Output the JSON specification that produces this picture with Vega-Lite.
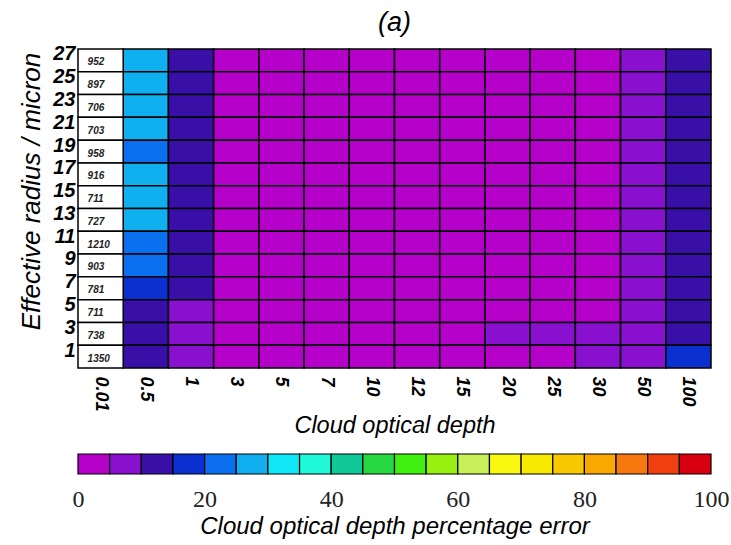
{
  "$schema": "https://vega.github.io/schema/vega-lite/v6.json",
  "background": "white",
  "padding": {"left": 18, "top": 8, "right": 5, "bottom": 5},
  "spacing": 16,
  "config": {"view": {"stroke": null}},
  "datasets": {
    "cells": [
      {"tau": "0.5", "re": 27, "err": 27}, {"tau": "0.5", "re": 25, "err": 27}, {"tau": "0.5", "re": 23, "err": 27}, {"tau": "0.5", "re": 21, "err": 27},
      {"tau": "0.5", "re": 19, "err": 22}, {"tau": "0.5", "re": 17, "err": 27}, {"tau": "0.5", "re": 15, "err": 27}, {"tau": "0.5", "re": 13, "err": 27},
      {"tau": "0.5", "re": 11, "err": 22}, {"tau": "0.5", "re": 9, "err": 22}, {"tau": "0.5", "re": 7, "err": 17}, {"tau": "0.5", "re": 5, "err": 12},
      {"tau": "0.5", "re": 3, "err": 12}, {"tau": "0.5", "re": 1, "err": 12},
      {"tau": "1", "re": 27, "err": 12}, {"tau": "1", "re": 25, "err": 12}, {"tau": "1", "re": 23, "err": 12}, {"tau": "1", "re": 21, "err": 12},
      {"tau": "1", "re": 19, "err": 12}, {"tau": "1", "re": 17, "err": 12}, {"tau": "1", "re": 15, "err": 12}, {"tau": "1", "re": 13, "err": 12},
      {"tau": "1", "re": 11, "err": 12}, {"tau": "1", "re": 9, "err": 12}, {"tau": "1", "re": 7, "err": 12}, {"tau": "1", "re": 5, "err": 7},
      {"tau": "1", "re": 3, "err": 7}, {"tau": "1", "re": 1, "err": 7},
      {"tau": "3", "re": 27, "err": 2}, {"tau": "3", "re": 25, "err": 2}, {"tau": "3", "re": 23, "err": 2}, {"tau": "3", "re": 21, "err": 2},
      {"tau": "3", "re": 19, "err": 2}, {"tau": "3", "re": 17, "err": 2}, {"tau": "3", "re": 15, "err": 2}, {"tau": "3", "re": 13, "err": 2},
      {"tau": "3", "re": 11, "err": 2}, {"tau": "3", "re": 9, "err": 2}, {"tau": "3", "re": 7, "err": 2}, {"tau": "3", "re": 5, "err": 2},
      {"tau": "3", "re": 3, "err": 2}, {"tau": "3", "re": 1, "err": 2},
      {"tau": "5", "re": 27, "err": 2}, {"tau": "5", "re": 25, "err": 2}, {"tau": "5", "re": 23, "err": 2}, {"tau": "5", "re": 21, "err": 2},
      {"tau": "5", "re": 19, "err": 2}, {"tau": "5", "re": 17, "err": 2}, {"tau": "5", "re": 15, "err": 2}, {"tau": "5", "re": 13, "err": 2},
      {"tau": "5", "re": 11, "err": 2}, {"tau": "5", "re": 9, "err": 2}, {"tau": "5", "re": 7, "err": 2}, {"tau": "5", "re": 5, "err": 2},
      {"tau": "5", "re": 3, "err": 2}, {"tau": "5", "re": 1, "err": 2},
      {"tau": "7", "re": 27, "err": 2}, {"tau": "7", "re": 25, "err": 2}, {"tau": "7", "re": 23, "err": 2}, {"tau": "7", "re": 21, "err": 2},
      {"tau": "7", "re": 19, "err": 2}, {"tau": "7", "re": 17, "err": 2}, {"tau": "7", "re": 15, "err": 2}, {"tau": "7", "re": 13, "err": 2},
      {"tau": "7", "re": 11, "err": 2}, {"tau": "7", "re": 9, "err": 2}, {"tau": "7", "re": 7, "err": 2}, {"tau": "7", "re": 5, "err": 2},
      {"tau": "7", "re": 3, "err": 2}, {"tau": "7", "re": 1, "err": 2},
      {"tau": "10", "re": 27, "err": 2}, {"tau": "10", "re": 25, "err": 2}, {"tau": "10", "re": 23, "err": 2}, {"tau": "10", "re": 21, "err": 2},
      {"tau": "10", "re": 19, "err": 2}, {"tau": "10", "re": 17, "err": 2}, {"tau": "10", "re": 15, "err": 2}, {"tau": "10", "re": 13, "err": 2},
      {"tau": "10", "re": 11, "err": 2}, {"tau": "10", "re": 9, "err": 2}, {"tau": "10", "re": 7, "err": 2}, {"tau": "10", "re": 5, "err": 2},
      {"tau": "10", "re": 3, "err": 2}, {"tau": "10", "re": 1, "err": 2},
      {"tau": "12", "re": 27, "err": 2}, {"tau": "12", "re": 25, "err": 2}, {"tau": "12", "re": 23, "err": 2}, {"tau": "12", "re": 21, "err": 2},
      {"tau": "12", "re": 19, "err": 2}, {"tau": "12", "re": 17, "err": 2}, {"tau": "12", "re": 15, "err": 2}, {"tau": "12", "re": 13, "err": 2},
      {"tau": "12", "re": 11, "err": 2}, {"tau": "12", "re": 9, "err": 2}, {"tau": "12", "re": 7, "err": 2}, {"tau": "12", "re": 5, "err": 2},
      {"tau": "12", "re": 3, "err": 2}, {"tau": "12", "re": 1, "err": 2},
      {"tau": "15", "re": 27, "err": 2}, {"tau": "15", "re": 25, "err": 2}, {"tau": "15", "re": 23, "err": 2}, {"tau": "15", "re": 21, "err": 2},
      {"tau": "15", "re": 19, "err": 2}, {"tau": "15", "re": 17, "err": 2}, {"tau": "15", "re": 15, "err": 2}, {"tau": "15", "re": 13, "err": 2},
      {"tau": "15", "re": 11, "err": 2}, {"tau": "15", "re": 9, "err": 2}, {"tau": "15", "re": 7, "err": 2}, {"tau": "15", "re": 5, "err": 2},
      {"tau": "15", "re": 3, "err": 2}, {"tau": "15", "re": 1, "err": 2},
      {"tau": "20", "re": 27, "err": 2}, {"tau": "20", "re": 25, "err": 2}, {"tau": "20", "re": 23, "err": 2}, {"tau": "20", "re": 21, "err": 2},
      {"tau": "20", "re": 19, "err": 2}, {"tau": "20", "re": 17, "err": 2}, {"tau": "20", "re": 15, "err": 2}, {"tau": "20", "re": 13, "err": 2},
      {"tau": "20", "re": 11, "err": 2}, {"tau": "20", "re": 9, "err": 2}, {"tau": "20", "re": 7, "err": 2}, {"tau": "20", "re": 5, "err": 2},
      {"tau": "20", "re": 3, "err": 7}, {"tau": "20", "re": 1, "err": 2},
      {"tau": "25", "re": 27, "err": 2}, {"tau": "25", "re": 25, "err": 2}, {"tau": "25", "re": 23, "err": 2}, {"tau": "25", "re": 21, "err": 2},
      {"tau": "25", "re": 19, "err": 2}, {"tau": "25", "re": 17, "err": 2}, {"tau": "25", "re": 15, "err": 2}, {"tau": "25", "re": 13, "err": 2},
      {"tau": "25", "re": 11, "err": 2}, {"tau": "25", "re": 9, "err": 2}, {"tau": "25", "re": 7, "err": 2}, {"tau": "25", "re": 5, "err": 2},
      {"tau": "25", "re": 3, "err": 7}, {"tau": "25", "re": 1, "err": 2},
      {"tau": "30", "re": 27, "err": 2}, {"tau": "30", "re": 25, "err": 2}, {"tau": "30", "re": 23, "err": 2}, {"tau": "30", "re": 21, "err": 2},
      {"tau": "30", "re": 19, "err": 2}, {"tau": "30", "re": 17, "err": 2}, {"tau": "30", "re": 15, "err": 2}, {"tau": "30", "re": 13, "err": 2},
      {"tau": "30", "re": 11, "err": 2}, {"tau": "30", "re": 9, "err": 2}, {"tau": "30", "re": 7, "err": 2}, {"tau": "30", "re": 5, "err": 2},
      {"tau": "30", "re": 3, "err": 7}, {"tau": "30", "re": 1, "err": 7},
      {"tau": "50", "re": 27, "err": 7}, {"tau": "50", "re": 25, "err": 7}, {"tau": "50", "re": 23, "err": 7}, {"tau": "50", "re": 21, "err": 7},
      {"tau": "50", "re": 19, "err": 7}, {"tau": "50", "re": 17, "err": 7}, {"tau": "50", "re": 15, "err": 7}, {"tau": "50", "re": 13, "err": 7},
      {"tau": "50", "re": 11, "err": 7}, {"tau": "50", "re": 9, "err": 7}, {"tau": "50", "re": 7, "err": 7}, {"tau": "50", "re": 5, "err": 7},
      {"tau": "50", "re": 3, "err": 7}, {"tau": "50", "re": 1, "err": 7},
      {"tau": "100", "re": 27, "err": 12}, {"tau": "100", "re": 25, "err": 12}, {"tau": "100", "re": 23, "err": 12}, {"tau": "100", "re": 21, "err": 12},
      {"tau": "100", "re": 19, "err": 12}, {"tau": "100", "re": 17, "err": 12}, {"tau": "100", "re": 15, "err": 12}, {"tau": "100", "re": 13, "err": 12},
      {"tau": "100", "re": 11, "err": 12}, {"tau": "100", "re": 9, "err": 12}, {"tau": "100", "re": 7, "err": 12}, {"tau": "100", "re": 5, "err": 12},
      {"tau": "100", "re": 3, "err": 12}, {"tau": "100", "re": 1, "err": 17}
    ],
    "counts": [
      {"tau": "0.01", "re": 27, "count": 952}, {"tau": "0.01", "re": 25, "count": 897}, {"tau": "0.01", "re": 23, "count": 706},
      {"tau": "0.01", "re": 21, "count": 703}, {"tau": "0.01", "re": 19, "count": 958}, {"tau": "0.01", "re": 17, "count": 916},
      {"tau": "0.01", "re": 15, "count": 711}, {"tau": "0.01", "re": 13, "count": 727}, {"tau": "0.01", "re": 11, "count": 1210},
      {"tau": "0.01", "re": 9, "count": 903}, {"tau": "0.01", "re": 7, "count": 781}, {"tau": "0.01", "re": 5, "count": 711},
      {"tau": "0.01", "re": 3, "count": 738}, {"tau": "0.01", "re": 1, "count": 1350}
    ],
    "bar": [
      {"lo": 0, "hi": 5, "mid": 2.5}, {"lo": 5, "hi": 10, "mid": 7.5}, {"lo": 10, "hi": 15, "mid": 12.5}, {"lo": 15, "hi": 20, "mid": 17.5},
      {"lo": 20, "hi": 25, "mid": 22.5}, {"lo": 25, "hi": 30, "mid": 27.5}, {"lo": 30, "hi": 35, "mid": 32.5}, {"lo": 35, "hi": 40, "mid": 37.5},
      {"lo": 40, "hi": 45, "mid": 42.5}, {"lo": 45, "hi": 50, "mid": 47.5}, {"lo": 50, "hi": 55, "mid": 52.5}, {"lo": 55, "hi": 60, "mid": 57.5},
      {"lo": 60, "hi": 65, "mid": 62.5}, {"lo": 65, "hi": 70, "mid": 67.5}, {"lo": 70, "hi": 75, "mid": 72.5}, {"lo": 75, "hi": 80, "mid": 77.5},
      {"lo": 80, "hi": 85, "mid": 82.5}, {"lo": 85, "hi": 90, "mid": 87.5}, {"lo": 90, "hi": 95, "mid": 92.5}, {"lo": 95, "hi": 100, "mid": 97.5}
    ]
  },
  "resolve": {"scale": {"color": "independent"}},
  "vconcat": [
    {
      "title": {"text": "(a)", "font": "Liberation Sans", "fontStyle": "italic", "fontWeight": "normal", "fontSize": 27, "offset": 7, "anchor": "middle"},
      "width": 633,
      "height": 319,
      "encoding": {
        "x": {
          "field": "tau", "type": "ordinal",
          "scale": {"domain": ["0.01", "0.5", "1", "3", "5", "7", "10", "12", "15", "20", "25", "30", "50", "100"], "paddingInner": 0, "paddingOuter": 0},
          "axis": {
            "title": "Cloud optical depth", "titleFont": "Liberation Sans", "titleFontStyle": "italic", "titleFontWeight": "normal", "titleFontSize": 23.5, "titleColor": "black", "titlePadding": 2,
            "labelAngle": 90, "labelFont": "Liberation Sans", "labelFontStyle": "italic", "labelFontWeight": "bold", "labelFontSize": 18, "labelColor": "black", "labelPadding": 8,
            "ticks": false, "domain": false
          }
        },
        "y": {
          "field": "re", "type": "ordinal",
          "scale": {"domain": [27, 25, 23, 21, 19, 17, 15, 13, 11, 9, 7, 5, 3, 1], "paddingInner": 0, "paddingOuter": 0},
          "axis": {
            "title": "Effective radius / micron", "titleFont": "Liberation Sans", "titleFontStyle": "italic", "titleFontWeight": "normal", "titleFontSize": 26, "titleColor": "black", "titlePadding": 8, "titleY": 142,
            "labelFont": "Liberation Sans", "labelFontStyle": "italic", "labelFontWeight": "bold", "labelFontSize": 20, "labelColor": "black", "labelPadding": 3, "labelOffset": -6,
            "ticks": false, "domain": false
          }
        }
      },
      "layer": [
        {
          "data": {"name": "cells"},
          "mark": {"type": "rect", "stroke": "black", "strokeWidth": 1.5},
          "encoding": {
            "color": {
              "field": "err", "type": "quantitative", "legend": null,
              "scale": {"type": "threshold", "domain": [5, 10, 15, 20, 25, 30, 35, 40, 45, 50, 55, 60, 65, 70, 75, 80, 85, 90, 95],
                "range": ["#b400c8", "#8a10d0", "#3810a8", "#0a30d0", "#0a70f0", "#10b0f0", "#10e8f8", "#20f8d8", "#10c898", "#28d840", "#40f010", "#98f010", "#c8f058", "#f8f810", "#f8e800", "#f8c800", "#f8a800", "#f87810", "#f04010", "#d80010"]}
            }
          }
        },
        {
          "data": {"name": "counts"},
          "mark": {"type": "rect", "fill": "white", "stroke": "black", "strokeWidth": 1.5}
        },
        {
          "data": {"name": "counts"},
          "mark": {"type": "text", "font": "Liberation Sans", "fontStyle": "italic", "fontWeight": "bold", "fontSize": 10, "align": "left", "dx": -13, "dy": 2, "color": "#222"},
          "encoding": {"text": {"field": "count", "type": "quantitative"}}
        }
      ]
    },
    {
      "width": 633,
      "height": 20,
      "data": {"name": "bar"},
      "mark": {"type": "rect", "stroke": "black", "strokeWidth": 1.2},
      "encoding": {
        "x": {
          "field": "lo", "type": "quantitative",
          "scale": {"domain": [0, 100], "nice": false, "zero": false},
          "axis": {
            "values": [0, 20, 40, 60, 80, 100], "labelFlush": false, "ticks": false, "domain": false, "grid": false,
            "labelFont": "Liberation Serif", "labelFontSize": 24, "labelColor": "#222", "labelPadding": 13,
            "title": "Cloud optical depth percentage error", "titleFont": "Liberation Sans", "titleFontStyle": "italic", "titleFontWeight": "normal", "titleFontSize": 24, "titleColor": "black", "titlePadding": 3
          }
        },
        "x2": {"field": "hi"},
        "color": {
          "field": "mid", "type": "quantitative", "legend": null,
          "scale": {"type": "threshold", "domain": [5, 10, 15, 20, 25, 30, 35, 40, 45, 50, 55, 60, 65, 70, 75, 80, 85, 90, 95],
            "range": ["#b400c8", "#8a10d0", "#3810a8", "#0a30d0", "#0a70f0", "#10b0f0", "#10e8f8", "#20f8d8", "#10c898", "#28d840", "#40f010", "#98f010", "#c8f058", "#f8f810", "#f8e800", "#f8c800", "#f8a800", "#f87810", "#f04010", "#d80010"]}
        }
      }
    }
  ]
}
